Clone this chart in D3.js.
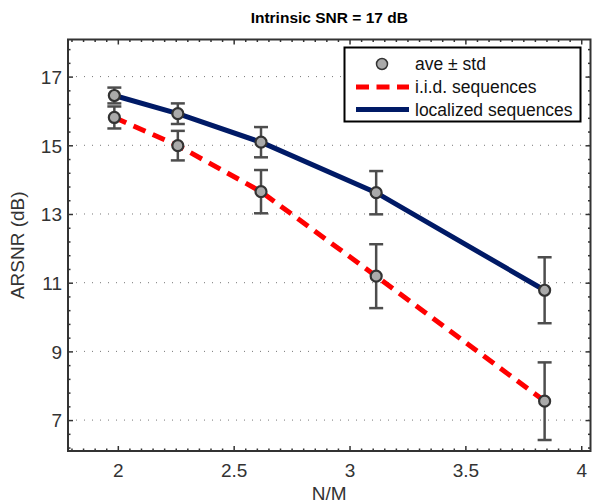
<!DOCTYPE html>
<html>
<head>
<meta charset="utf-8">
<script src="https://cdn.jsdelivr.net/npm/d3@7"></script>
<style>
  html, body { margin: 0; padding: 0; background: #fff; }
  svg { display: block; font-family: "Liberation Sans", Arial, Helvetica, sans-serif; }
</style>
</head>
<body>
<svg id="chart" width="592" height="503"></svg>
<script>
// ---- data ----
const nm = [1.985, 2.259, 2.618, 3.115, 3.842];
const iidMean = [15.81, 14.99, 13.65, 11.19, 7.55];
const iidStd = [0.32, 0.43, 0.63, 0.93, 1.13];
const locMean = [16.45, 15.92, 15.09, 13.62, 10.78];
const locStd = [0.23, 0.30, 0.44, 0.63, 0.96];
const xTicks = [2, 2.5, 3, 3.5, 4];
const xTickLabels = ["2", "2.5", "3", "3.5", "4"];
const yTicks = [7, 9, 11, 13, 15, 17];
const yTickLabels = ["7", "9", "11", "13", "15", "17"];
const legendLabels = ["ave \u00B1 std", "i.i.d. sequences", "localized sequences"];
const titleText = "Intrinsic SNR = 17 dB";
const xLabel = "N/M";
const yLabel = "ARSNR (dB)";

// ---- layout ----
const L = 68, R = 590.5, T = 39.5, B = 451;
const svg = d3.select("#chart");
const x = d3.scaleLinear().domain([1.785, 4.04]).range([L, R]);
const y = d3.scaleLinear().domain([6.1, 18.08]).range([B, T]);
const axisColor = "#333";
const textColor = "#333";

// grid
svg.append("g").selectAll("line").data(yTicks).join("line")
  .attr("x1", L).attr("x2", R)
  .attr("y1", d => y(d)).attr("y2", d => y(d))
  .attr("stroke", "#777").attr("stroke-width", 1)
  .attr("stroke-dasharray", "1,7");

// minor ticks
const xMinor = d3.range(1.8, 4.04, 0.05).filter(v => !xTicks.some(t => Math.abs(t - v) < 1e-6));
const yMinor = d3.range(6.2, 18.05, 0.4).filter(v => !yTicks.some(t => Math.abs(t - v) < 1e-6));

function addAxis(gen, transform, size, values, labels) {
  const g = svg.append("g").attr("transform", transform)
    .call(gen.tickValues(values).tickSizeInner(size).tickSizeOuter(0)
      .tickFormat((d, i) => labels ? labels[i] : ""));
  g.select(".domain").remove();
  g.selectAll(".tick line").attr("stroke", axisColor).attr("stroke-width", 1.5);
  g.selectAll(".tick text").attr("fill", textColor).style("font-size", "19px");
  return g;
}
// bottom
addAxis(d3.axisBottom(x), `translate(0,${B})`, -5, xTicks, xTickLabels)
  .selectAll(".tick text").attr("dy", "0").attr("y", 26);
addAxis(d3.axisBottom(x), `translate(0,${B})`, -2.5, xMinor, null);
// top
addAxis(d3.axisTop(x), `translate(0,${T})`, -5, xTicks, null);
addAxis(d3.axisTop(x), `translate(0,${T})`, -2.5, xMinor, null);
// left
addAxis(d3.axisLeft(y), `translate(${L},0)`, -5, yTicks, yTickLabels)
  .selectAll(".tick text").attr("x", -6).attr("dy", "0.36em");
addAxis(d3.axisLeft(y), `translate(${L},0)`, -2.5, yMinor, null);
// right
addAxis(d3.axisRight(y), `translate(${R},0)`, -5, yTicks, null);
addAxis(d3.axisRight(y), `translate(${R},0)`, -2.5, yMinor, null);

// box
svg.append("rect").attr("x", L).attr("y", T).attr("width", R - L).attr("height", B - T)
  .attr("fill", "none").attr("stroke", axisColor).attr("stroke-width", 2);

// lines
const line = d3.line().x(d => x(d[0])).y(d => y(d[1]));
const iidPts = nm.map((v, i) => [v, iidMean[i]]);
const locPts = nm.map((v, i) => [v, locMean[i]]);
const redC = "#ff0000", navyC = "#001a66";
svg.append("path").attr("d", line(iidPts)).attr("fill", "none")
  .attr("stroke", redC).attr("stroke-width", 5).attr("stroke-dasharray", "13,8");
svg.append("path").attr("d", line(locPts)).attr("fill", "none")
  .attr("stroke", navyC).attr("stroke-width", 5);

// error bars
const ebColor = "#4d4d4d";
function errorBars(means, stds) {
  const g = svg.append("g").attr("stroke", ebColor).attr("stroke-width", 2.5);
  nm.forEach((v, i) => {
    const cx = x(v), y1 = y(means[i] + stds[i]), y2 = y(means[i] - stds[i]);
    g.append("line").attr("x1", cx).attr("x2", cx).attr("y1", y1).attr("y2", y2);
    g.append("line").attr("x1", cx - 7).attr("x2", cx + 7).attr("y1", y1).attr("y2", y1);
    g.append("line").attr("x1", cx - 7).attr("x2", cx + 7).attr("y1", y2).attr("y2", y2);
  });
}
errorBars(iidMean, iidStd);
errorBars(locMean, locStd);

// markers
function markers(means) {
  svg.append("g").selectAll("circle").data(nm).join("circle")
    .attr("cx", d => x(d)).attr("cy", (d, i) => y(means[i])).attr("r", 5.5)
    .attr("fill", "#aaaaaa").attr("stroke", "#333").attr("stroke-width", 2.2);
}
markers(iidMean);
markers(locMean);

// legend
const lg = svg.append("g");
lg.append("rect").attr("x", 344.5).attr("y", 47.5).attr("width", 236).attr("height", 74)
  .attr("fill", "#fff").attr("stroke", "#000").attr("stroke-width", 2);
const rowY = [64, 87, 109.5];
lg.append("circle").attr("cx", 382).attr("cy", rowY[0]).attr("r", 5.5)
  .attr("fill", "#aaaaaa").attr("stroke", "#333").attr("stroke-width", 1.5);
lg.append("line").attr("x1", 356).attr("x2", 409).attr("y1", rowY[1]).attr("y2", rowY[1])
  .attr("stroke", redC).attr("stroke-width", 5).attr("stroke-dasharray", "13,7.5");
lg.append("line").attr("x1", 356).attr("x2", 409).attr("y1", rowY[2]).attr("y2", rowY[2])
  .attr("stroke", navyC).attr("stroke-width", 5);
lg.selectAll("text").data(legendLabels).join("text")
  .attr("x", 415).attr("y", (d, i) => rowY[i]).attr("dy", "0.35em")
  .attr("fill", "#111").style("font-size", "17.5px").text(d => d);

// title and axis labels
svg.append("text").attr("x", (L + R) / 2).attr("y", 23).attr("text-anchor", "middle")
  .style("font-size", "15.5px").style("font-weight", "bold").attr("fill", "#000").text(titleText);
svg.append("text").attr("x", (L + R) / 2).attr("y", 500).attr("text-anchor", "middle")
  .style("font-size", "19px").attr("fill", textColor).text(xLabel);
svg.append("text").attr("transform", `translate(24,${(T + B) / 2}) rotate(-90)`)
  .attr("text-anchor", "middle").style("font-size", "19px").attr("fill", textColor).text(yLabel);
</script>
</body>
</html>
